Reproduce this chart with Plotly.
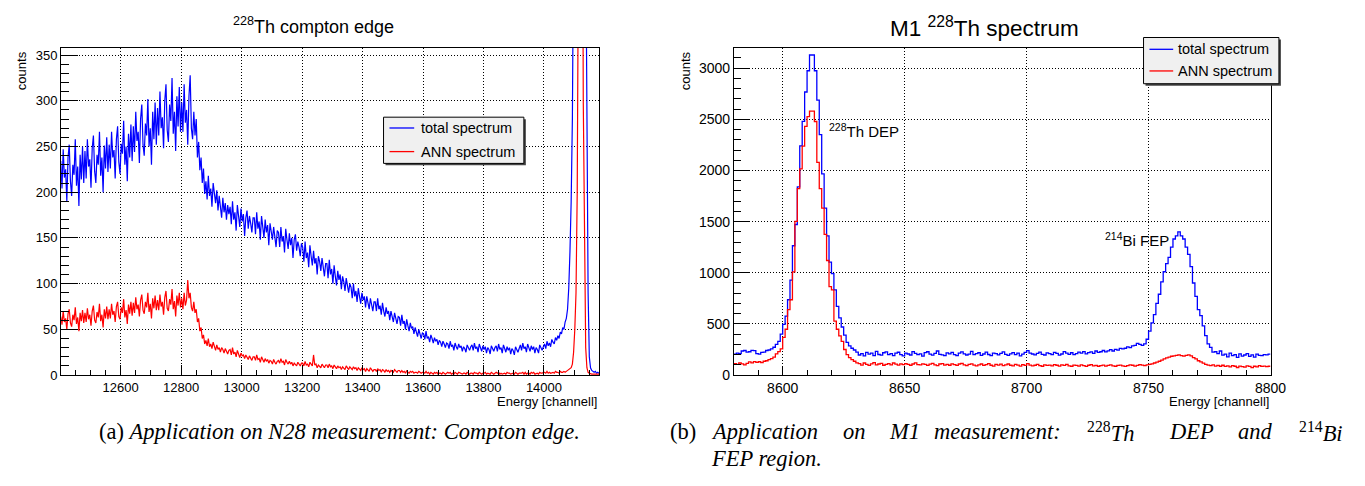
import numpy as np
import plotly.graph_objects as go

# ---------------- data ----------------
# (a) N28 measurement, Compton edge region: 4-channel bins starting at 12400
N28_START = 12400
N28_BIN = 4
N28_TOTAL = [
    234, 204, 247, 216, 225, 190, 238, 252, 212, 196, 230, 219, 258, 207, 228, 185, 241, 214, 250, 210,
    245, 215, 258, 228, 236, 205, 248, 262, 223, 210, 241, 230, 266, 218, 238, 200, 251, 226, 260, 222,
    252, 226, 266, 238, 246, 215, 258, 272, 233, 220, 253, 242, 278, 230, 250, 212, 264, 238, 274, 234,
    272, 244, 288, 256, 266, 232, 280, 296, 252, 240, 275, 262, 302, 250, 270, 230, 288, 258, 298, 252,
    292, 262, 310, 270, 282, 248, 300, 318, 268, 255, 296, 278, 325, 264, 288, 245, 305, 272, 315, 266,
    298, 266, 318, 276, 290, 252, 305, 328, 270, 258, 288, 262, 280, 238, 255, 224, 238, 210, 226, 198,
    212, 192, 218, 196, 204, 184, 210, 198, 188, 202, 180, 196, 186, 172, 194, 178, 188, 170, 186, 176,
    184, 165, 190, 170, 178, 158, 186, 174, 162, 182, 168, 176, 152, 172, 180, 160, 174, 166, 156, 172,
    172, 154, 178, 160, 168, 148, 174, 162, 150, 170, 156, 164, 142, 166, 158, 148, 162, 152, 140, 158,
    156, 140, 162, 146, 152, 134, 160, 148, 138, 155, 142, 150, 128, 148, 154, 136, 146, 140, 130, 144,
    140, 124, 146, 128, 134, 118, 142, 130, 120, 136, 122, 128, 110, 130, 124, 114, 128, 118, 108, 122,
    122, 106, 126, 110, 116, 100, 120, 108, 98, 114, 104, 110, 94, 108, 102, 92, 106, 98, 90, 100,
    96, 84, 100, 86, 92, 80, 95, 86, 78, 90, 82, 86, 74, 86, 80, 72, 84, 76, 70, 80,
    80, 70, 84, 72, 76, 66, 79, 70, 64, 74, 67, 70, 60, 70, 65, 58, 68, 62, 56, 64,
    63, 54, 66, 56, 59, 50, 61, 54, 48, 57, 51, 53, 45, 52, 48, 42, 50, 45, 40, 46,
    45, 39, 48, 40, 42, 36, 44, 40, 35, 41, 37, 39, 33, 38, 36, 31, 37, 34, 30, 35,
    34, 29, 37, 31, 33, 27, 35, 31, 28, 34, 30, 32, 26, 31, 29, 25, 33, 30, 27, 31,
    33, 27, 35, 29, 31, 25, 34, 30, 26, 32, 28, 31, 24, 30, 28, 23, 32, 29, 26, 30,
    32, 26, 34, 28, 30, 24, 33, 29, 25, 31, 27, 30, 23, 29, 27, 22, 31, 28, 25, 29,
    33, 27, 35, 29, 31, 25, 34, 30, 26, 32, 28, 31, 24, 30, 28, 24, 33, 30, 27, 31,
    34, 29, 37, 32, 35, 31, 39, 36, 34, 41, 38, 43, 40, 47, 45, 52, 50, 58, 62, 72,
    95, 135, 190, 280, 390, 600, 900, 1200, 1400, 1500, 1400, 1200, 900, 700, 500, 380, 90, 20, 8, 5,
    4, 3, 4, 2, 3, 2, 3, 2,
]
N28_ANN = [
    64, 55, 70, 58, 62, 50, 67, 72, 57, 53, 66, 60, 74, 56, 63, 48, 68, 59, 71, 57,
    68, 58, 73, 61, 66, 54, 70, 76, 60, 57, 69, 63, 78, 59, 66, 52, 72, 62, 75, 61,
    72, 62, 78, 66, 70, 58, 75, 80, 64, 61, 74, 68, 83, 63, 71, 56, 77, 67, 80, 65,
    79, 68, 85, 72, 77, 64, 82, 88, 71, 67, 80, 74, 90, 69, 78, 62, 84, 73, 87, 71,
    82, 71, 88, 75, 80, 66, 85, 92, 73, 70, 83, 77, 94, 72, 81, 64, 87, 76, 90, 74,
    84, 72, 90, 76, 82, 104, 84, 90, 74, 70, 80, 68, 72, 58, 62, 48, 52, 40, 44, 34,
    38, 32, 40, 31, 34, 29, 36, 31, 27, 33, 28, 30, 25, 30, 28, 24, 29, 26, 23, 27,
    28, 22, 30, 23, 25, 20, 27, 23, 19, 24, 21, 22, 18, 22, 20, 17, 21, 19, 16, 20,
    20, 16, 22, 17, 18, 14, 20, 17, 14, 18, 15, 17, 13, 16, 15, 12, 17, 14, 12, 15,
    16, 13, 18, 14, 15, 11, 17, 14, 12, 15, 12, 14, 10, 13, 12, 10, 14, 12, 10, 13,
    13, 10, 15, 11, 12, 9, 14, 12, 10, 22, 11, 12, 8, 11, 10, 8, 12, 10, 8, 11,
    11, 8, 12, 9, 10, 7, 11, 9, 7, 10, 8, 9, 6, 9, 8, 6, 10, 8, 6, 9,
    8, 6, 9, 7, 8, 5, 8, 7, 5, 8, 6, 7, 4, 7, 6, 4, 8, 6, 4, 6,
    6, 4, 7, 5, 6, 3, 6, 5, 3, 6, 4, 5, 3, 5, 4, 3, 6, 4, 3, 5,
    5, 3, 5, 3, 4, 2, 5, 3, 2, 4, 3, 4, 2, 3, 3, 2, 4, 3, 2, 3,
    3, 2, 4, 2, 3, 1, 3, 2, 1, 3, 2, 3, 1, 2, 2, 1, 3, 2, 1, 2,
    3, 2, 3, 1, 2, 1, 3, 2, 1, 3, 2, 2, 1, 2, 2, 1, 3, 2, 1, 2,
    2, 1, 3, 2, 2, 1, 3, 2, 1, 2, 2, 3, 1, 2, 1, 1, 3, 2, 1, 2,
    3, 2, 3, 1, 2, 1, 2, 2, 1, 3, 2, 2, 1, 2, 2, 1, 3, 2, 1, 2,
    2, 2, 3, 1, 3, 1, 2, 2, 1, 3, 2, 3, 1, 2, 2, 1, 3, 2, 2, 3,
    3, 2, 4, 2, 3, 2, 3, 3, 2, 4, 3, 3, 2, 4, 3, 3, 4, 3, 4, 5,
    5, 6, 8, 12, 25, 50, 90, 200, 450, 800, 1000, 700, 300, 120, 30, 8, 3, 2, 1, 1,
    1, 1, 1, 1, 1, 1, 1, 1,
]

# (b) M1 measurement: 1-channel bins starting at 8580
M1_START = 8580
M1_BIN = 1
M1_TOTAL = [
    205, 215, 210, 235, 240, 225, 228, 242, 238, 210,
    205, 222, 225, 240, 245, 255, 272, 300, 330, 400,
    496, 576, 736, 928, 1264, 1472, 1840, 2240, 2480, 2767,
    2975, 3129, 3129, 2975, 2687, 2351, 1967, 1631, 1360, 1104,
    992, 832, 672, 560, 470, 390, 320, 285, 262, 245,
    225, 196, 210, 188, 222, 205, 214, 190, 232, 201,
    195, 218, 226, 199, 210, 190, 214, 223, 200, 188,
    215, 206, 196, 230, 211, 200, 208, 185, 219, 228,
    205, 194, 212, 235, 203, 198, 190, 216, 207, 222,
    200, 189, 214, 226, 208, 196, 205, 232, 199, 210,
    218, 193, 206, 224, 201, 190, 215, 209, 197, 212,
    226, 203, 192, 208, 219, 200, 214, 188, 205, 222,
    238, 215, 206, 198, 211, 225, 203, 196, 217, 209,
    200, 222, 212, 195, 206, 229, 214, 203, 218, 199,
    210, 224, 215, 230, 208, 219, 226, 212, 235, 222,
    228, 240, 226, 236, 248, 235, 252, 244, 260, 255,
    262, 275, 268, 285, 290, 310, 300, 290, 304, 350,
    430, 510, 590, 700, 790, 910, 1010, 1090, 1150, 1250,
    1330, 1360, 1400, 1360, 1330, 1250, 1180, 1060, 900, 770,
    640, 580, 480, 385, 305, 270, 225, 228, 210, 235,
    195, 205, 178, 215, 190, 200, 172, 208, 185, 196,
    210, 183, 198, 176, 205, 192, 190, 200, 198, 205,
]
M1_ANN = [
    112, 105, 118, 110, 100, 115, 128, 120, 132, 125,
    130, 122, 135, 140, 150, 160, 175, 208, 230, 256,
    368, 448, 640, 736, 1008, 1503, 1823, 2015, 2239, 2431,
    2527, 2581, 2581, 2479, 2079, 1823, 1631, 1375, 1120, 864,
    832, 528, 448, 384, 330, 250, 200, 170, 150, 135,
    120, 112, 98, 118, 104, 95, 110, 122, 100, 108,
    115, 96, 104, 112, 100, 118, 106, 98, 110, 102,
    112, 105, 96, 108, 120, 102, 99, 110, 104, 94,
    106, 115, 100, 92, 108, 112, 98, 104, 96, 110,
    102, 94, 108, 114, 100, 92, 104, 110, 98, 90,
    100, 108, 94, 102, 112, 96, 88, 104, 98, 106,
    92, 100, 108, 96, 90, 104, 98, 88, 102, 95,
    112, 98, 90, 96, 104, 92, 86, 100, 94, 98,
    90, 102, 96, 88, 100, 94, 104, 90, 86, 98,
    95, 88, 100, 92, 84, 96, 102, 90, 94, 86,
    92, 98, 88, 95, 100, 90, 86, 94, 98, 90,
    84, 92, 100, 96, 88, 94, 102, 98, 92, 100,
    104, 110, 118, 126, 135, 145, 158, 168, 176, 184,
    188, 192, 198, 190, 185, 192, 198, 188, 170, 158,
    140, 128, 116, 104, 98, 92, 100, 88, 94, 86,
    96, 84, 90, 80, 92, 86, 74, 88, 82, 78,
    90, 84, 72, 86, 80, 92, 84, 88, 82, 86,
]

SERIES_NAMES = ["total spectrum", "ANN spectrum"]

# ---------------- helpers ----------------
W, H = 1365, 486


def px(x):
    return x / W


def py(y):
    return 1 - y / H


def step_xy(start, width, vals):
    edges = start + width * np.arange(len(vals) + 1)
    return edges, list(vals) + [vals[-1]]


def centre_xy(start, width, vals):
    return start + width * (np.arange(len(vals)) + 0.5), list(vals)


BLUE = "#0000ff"
RED = "#ff0000"
SANS = "Liberation Sans, Arial, sans-serif"
SERIF = "Liberation Serif, Times New Roman, serif"

fig = go.Figure()

# left: dense noisy spectra drawn as polylines through bin centres
for vals, col in [(N28_TOTAL, BLUE), (N28_ANN, RED)]:
    xs, ys = centre_xy(N28_START, N28_BIN, vals)
    fig.add_trace(go.Scatter(x=xs, y=ys, mode="lines", xaxis="x", yaxis="y",
                             line=dict(color=col, width=1.2),
                             showlegend=False, hoverinfo="skip"))
# right: step histograms
for vals, col in [(M1_TOTAL, BLUE), (M1_ANN, RED)]:
    xs, ys = step_xy(M1_START, M1_BIN, vals)
    fig.add_trace(go.Scatter(x=xs, y=ys, mode="lines", xaxis="x2", yaxis="y2",
                             line=dict(color=col, width=1.3, shape="hv"),
                             showlegend=False, hoverinfo="skip"))


def axis(domain, rng, dtick, mdtick, tlen, mlen, fsize, anchor):
    return dict(domain=domain, range=rng, tick0=0, dtick=dtick, tickformat="d",
                ticks="inside", ticklen=tlen, tickwidth=1, tickcolor="black",
                showline=True, linecolor="black", linewidth=1, mirror=True,
                showgrid=True, gridcolor="black", gridwidth=1, griddash="1px,2px",
                zeroline=False, anchor=anchor,
                tickfont=dict(family=SANS, size=fsize, color="black"),
                minor=dict(dtick=mdtick, ticklen=mlen, ticks="inside", tickwidth=1,
                           tickcolor="black", showgrid=False))


ydom = [py(373.2), py(40.4)]
fig.update_layout(
    width=W, height=H, autosize=False,
    margin=dict(l=0, r=0, t=0, b=0),
    paper_bgcolor="white", plot_bgcolor="white",
    font=dict(family=SANS, size=13, color="black"),
    xaxis=axis([px(53.7), px(598)], [12403, 14182], 200, 50, 10, 5, 13, "y"),
    yaxis=axis(ydom, [0, 358], 50, 10, 17, 8, 13, "x"),
    xaxis2=axis([px(734.5), px(1277.5)], [8580, 8800], 50, 10, 9, 5, 14, "y2"),
    yaxis2=axis(ydom, [0, 3200], 500, 100, 15, 7.5, 14, "x2"),
)

ann = []
# titles
ann.append(dict(text="<sup>228</sup>Th compton edge", x=px(309), y=py(18), font=dict(size=18)))
ann.append(dict(text="M1 <sup>228</sup>Th spectrum", x=px(988), y=py(19), font=dict(size=22.5)))
# axis titles
for xc in (13, 685):
    ann.append(dict(text="counts", x=px(xc), y=py(41.5), yanchor="top", textangle=-90,
                    font=dict(size=13)))
for xr in (598, 1277.5):
    ann.append(dict(text="Energy [channell]", x=px(xr), y=py(400), xanchor="right",
                    font=dict(size=13)))
# peak labels (data coordinates)
ann.append(dict(text="<sup>228</sup>Th DEP", x=8618.3, y=2393, xref="x2", yref="y2",
                xanchor="left", font=dict(size=15)))
ann.append(dict(text="<sup>214</sup>Bi FEP", x=8731.3, y=1327, xref="x2", yref="y2",
                xanchor="left", font=dict(size=15)))

shapes = []
# legends
for (bx0, by0, bx1, by1, lx0, lx1, ly, tx) in [(380, 111, 522, 158, 386, 411, (122, 146), 416),
                                               (1149, 30, 1286, 77, 1155, 1179, (42, 64), 1182)]:
    shapes.append(dict(type="rect", xref="paper", yref="paper", x0=px(bx0 + 2), x1=px(bx1 + 2),
                       y0=py(by0 + 2), y1=py(by1 + 2), fillcolor="#444444", line=dict(width=0)))
    shapes.append(dict(type="rect", xref="paper", yref="paper", x0=px(bx0), x1=px(bx1),
                       y0=py(by0), y1=py(by1), fillcolor="#f0f0f0",
                       line=dict(color="black", width=1)))
    for name, col, yy in zip(SERIES_NAMES, (BLUE, RED), ly):
        shapes.append(dict(type="line", xref="paper", yref="paper", x0=px(lx0), x1=px(lx1),
                           y0=py(yy), y1=py(yy), line=dict(color=col, width=1.3)))
        ann.append(dict(text=name, x=px(tx), y=py(yy), xanchor="left", font=dict(size=14.5)))

# captions
cap = dict(family=SERIF, size=22.5, color="black")
ann.append(dict(text="(a) <i>Application on N28 measurement: Compton edge.</i>",
                x=px(335), y=py(431), xanchor="center", font=cap))
# caption (b), first line is justified: place its words individually
CAP_B_WORDS = [("(b)", 668), ("<i>Application</i>", 709), ("<i>on</i>", 843), ("<i>M1</i>", 889),
               ("<i>measurement:</i>", 935), ("<sup>228</sup><i>Th</i>", 1090), ("<i>DEP</i>", 1173),
               ("<i>and</i>", 1243), ("<sup>214</sup><i>Bi</i>", 1304)]
for word, wx in CAP_B_WORDS:
    ann.append(dict(text=word, x=px(wx), y=py(431), xanchor="left", font=dict(cap)))
ann.append(dict(text="<i>FEP region.</i>", x=px(709), y=py(458), xanchor="left", font=dict(cap)))

for a in ann:
    a.setdefault("xref", "paper")
    a.setdefault("yref", "paper")
    a.setdefault("xanchor", "center")
    a.setdefault("yanchor", "middle")
    a["showarrow"] = False
    f = a.setdefault("font", {})
    f.setdefault("family", SANS)
    f.setdefault("color", "black")

fig.update_layout(annotations=ann, shapes=shapes)
fig.write_html("out.html")
